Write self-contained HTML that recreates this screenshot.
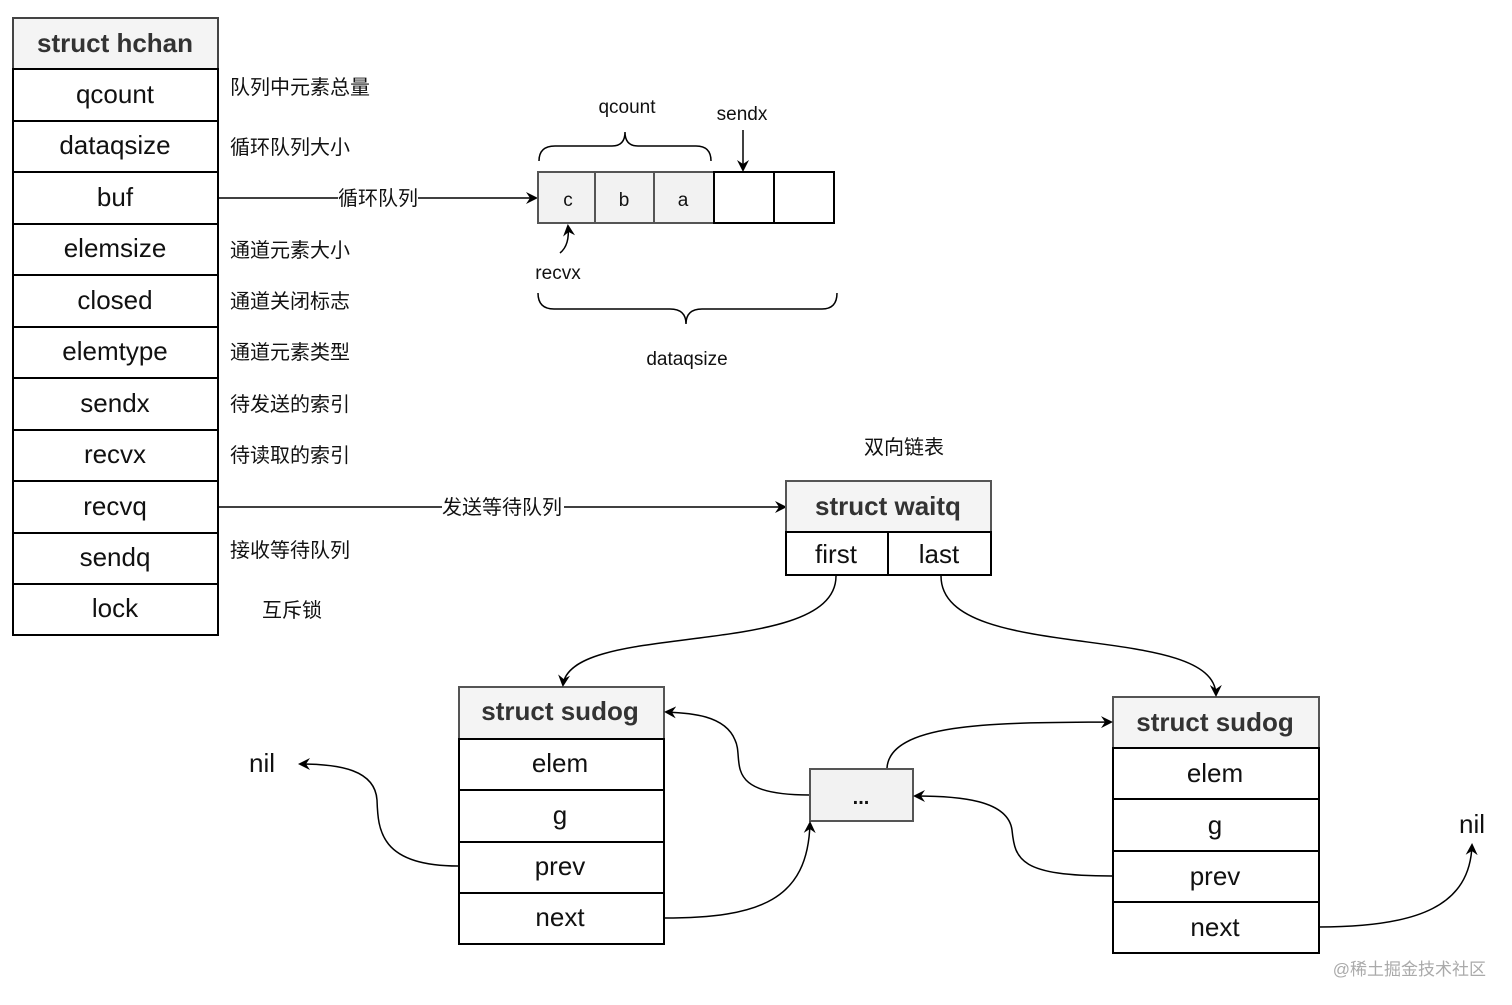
<!DOCTYPE html>
<html><head><meta charset="utf-8"><style>
html,body{margin:0;padding:0;background:#fff;}
svg{display:block;}
text{font-family:"Liberation Sans","Noto Sans CJK SC",sans-serif;fill:#111;}
.cn{font-size:20px;}
.f{font-size:26px;}
.b{font-size:26px;font-weight:bold;fill:#333;}
</style></head><body>
<svg width="1512" height="1005" viewBox="0 0 1512 1005" xmlns="http://www.w3.org/2000/svg">
<defs><marker id="a" markerWidth="12" markerHeight="12" refX="10" refY="6" orient="auto" markerUnits="userSpaceOnUse"><path d="M0,0 L12,6 L0,12 L4,6 Z" fill="#000"/></marker></defs>
<g stroke="#000" stroke-width="2" fill="#fff">
<rect x="13" y="18" width="205" height="51" fill="#f4f4f4" stroke="#444"/>
<rect x="13" y="69" width="205" height="566"/>
<path d="M13 121H218M13 172H218M13 224H218M13 275H218M13 327H218M13 378H218M13 430H218M13 481H218M13 533H218M13 584H218"/>
</g>
<g text-anchor="middle">
<text x="115" y="52" class="b">struct hchan</text>
<text x="115" y="103" class="f">qcount</text>
<text x="115" y="154" class="f">dataqsize</text>
<text x="115" y="206" class="f">buf</text>
<text x="115" y="257" class="f">elemsize</text>
<text x="115" y="309" class="f">closed</text>
<text x="115" y="360" class="f">elemtype</text>
<text x="115" y="412" class="f">sendx</text>
<text x="115" y="463" class="f">recvx</text>
<text x="115" y="515" class="f">recvq</text>
<text x="115" y="566" class="f">sendq</text>
<text x="115" y="617" class="f">lock</text>
</g>
<g class="cn">
<text x="230" y="94">队列中元素总量</text>
<text x="230" y="154">循环队列大小</text>
<text x="230" y="257">通道元素大小</text>
<text x="230" y="308">通道关闭标志</text>
<text x="230" y="359">通道元素类型</text>
<text x="230" y="411">待发送的索引</text>
<text x="230" y="462">待读取的索引</text>
<text x="230" y="557">接收等待队列</text>
<text x="262" y="617">互斥锁</text>
<text x="864" y="454">双向链表</text>
</g>
<path d="M218 198H338M418 198H536" stroke="#000" stroke-width="1.5" fill="none" marker-end="url(#a)"/>
<text x="338" y="205" class="cn">循环队列</text>
<g stroke="#000" stroke-width="2">
<rect x="538" y="172" width="176" height="51" fill="#f2f2f2" stroke="#555"/>
<path d="M595 172V223M654 172V223" stroke="#555"/>
<rect x="714" y="172" width="120" height="51" fill="#fff"/>
<path d="M774 172V223"/>
</g>
<g text-anchor="middle" font-size="19">
<text x="568" y="206">c</text><text x="624" y="206">b</text><text x="683" y="206">a</text>
<text x="627" y="113">qcount</text><text x="742" y="120">sendx</text>
<text x="558" y="279">recvx</text><text x="687" y="365">dataqsize</text>
</g>
<g stroke="#000" stroke-width="1.5" fill="none">
<path d="M539 161Q539 146 555 146H612Q625 146 625 132Q625 146 638 146H696Q711 146 711 161"/>
<path d="M538 293Q538 309 554 309H670Q686 309 686 324Q686 309 702 309H822Q837 309 837 293"/>
<path d="M743 130V170" marker-end="url(#a)"/>
<path d="M560 253Q570 245 568 226" marker-end="url(#a)"/>
</g>
<path d="M218 507H442M564 507H785" stroke="#000" stroke-width="1.5" fill="none" marker-end="url(#a)"/>
<text x="442" y="514" class="cn">发送等待队列</text>
<g stroke="#000" stroke-width="2">
<rect x="786" y="481" width="205" height="51" fill="#f4f4f4" stroke="#555"/>
<rect x="786" y="532" width="205" height="43" fill="#fff"/>
<path d="M888 532V575"/>
</g>
<text x="888" y="515" class="b" text-anchor="middle">struct waitq</text>
<text x="836" y="563" class="f" text-anchor="middle">first</text>
<text x="939" y="563" class="f" text-anchor="middle">last</text>
<g stroke="#000" stroke-width="2">
<rect x="459" y="687" width="205" height="52" fill="#f4f4f4" stroke="#555"/>
<rect x="459" y="739" width="205" height="205" fill="#fff"/>
<path d="M459 790H664M459 842H664M459 893H664"/>
</g>
<g text-anchor="middle">
<text x="560" y="720" class="b">struct sudog</text>
<text x="560" y="772" class="f">elem</text>
<text x="560" y="824" class="f">g</text>
<text x="560" y="875" class="f">prev</text>
<text x="560" y="926" class="f">next</text>
</g>
<g stroke="#000" stroke-width="2">
<rect x="1113" y="697" width="206" height="51" fill="#f4f4f4" stroke="#555"/>
<rect x="1113" y="748" width="206" height="205" fill="#fff"/>
<path d="M1113 799H1319M1113 851H1319M1113 902H1319"/>
</g>
<g text-anchor="middle">
<text x="1215" y="731" class="b">struct sudog</text>
<text x="1215" y="782" class="f">elem</text>
<text x="1215" y="834" class="f">g</text>
<text x="1215" y="885" class="f">prev</text>
<text x="1215" y="936" class="f">next</text>
</g>
<rect x="810" y="769" width="103" height="52" fill="#f2f2f2" stroke="#555" stroke-width="2"/>
<text x="861" y="804" text-anchor="middle" font-size="20" font-weight="bold" fill="#333">...</text>
<text x="262" y="772" class="f" text-anchor="middle">nil</text>
<text x="1472" y="833" class="f" text-anchor="middle">nil</text>
<text x="1486" y="975" font-size="17" text-anchor="end" style="fill:#aaa">@稀土掘金技术社区</text>
<g stroke="#000" stroke-width="1.5" fill="none">
<path d="M836 576C836 660 570 620 563 685" marker-end="url(#a)"/>
<path d="M941 576C941 665 1215 620 1216 695" marker-end="url(#a)"/>
<path d="M809 795C720 795 745 760 735 740C725 715 690 713 666 712" marker-end="url(#a)"/>
<path d="M887 768C890 720 1010 723 1111 722" marker-end="url(#a)"/>
<path d="M1112 876C1020 876 1015 860 1012 830C1008 800 960 796 915 796" marker-end="url(#a)"/>
<path d="M664 918C760 918 808 900 810 823" marker-end="url(#a)"/>
<path d="M458 866C380 866 378 830 377 800C375 770 340 764 300 764" marker-end="url(#a)"/>
<path d="M1319 927C1420 927 1470 905 1472 845" marker-end="url(#a)"/>
</g>
</svg>
</body></html>
